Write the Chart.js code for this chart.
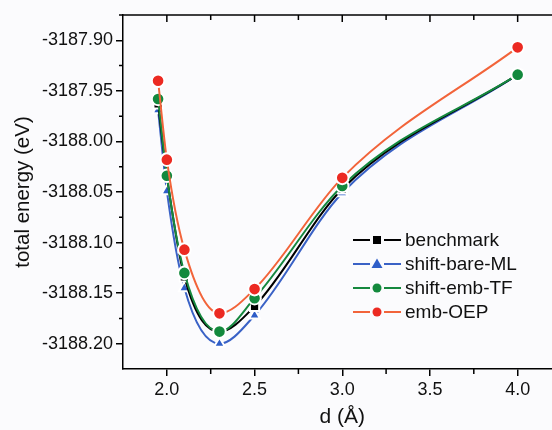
<!DOCTYPE html>
<html>
<head>
<meta charset="utf-8">
<script src="https://cdn.jsdelivr.net/npm/chart.js@4/dist/chart.umd.min.js"></script>
<style>
  html, body { margin: 0; padding: 0; background: #fbfbfd; overflow: hidden; }
  #wrap { width: 570px; height: 430px; }
</style>
</head>
<body>
<div id="wrap"><canvas id="energyChart" width="570" height="430"></canvas></div>
<script>
// bond distance d (Angstrom)
var distances = [1.95, 2.0, 2.1, 2.3, 2.5, 3.0, 4.0];

// total energy (eV)
var benchmark    = [-3187.963, -3188.034, -3188.134, -3188.188, -3188.163, -3188.047, -3187.934];
var shiftBareML  = [-3187.969, -3188.049, -3188.145, -3188.200, -3188.172, -3188.051, -3187.934];
var shiftEmbTF   = [-3187.958, -3188.034, -3188.130, -3188.188, -3188.155, -3188.044, -3187.934];
var embOEP       = [-3187.940, -3188.018, -3188.107, -3188.170, -3188.146, -3188.036, -3187.907];

var seriesNames = ['benchmark', 'shift-bare-ML', 'shift-emb-TF', 'emb-OEP'];

var xTicks = [2.0, 2.5, 3.0, 3.5, 4.0];
var yTicks = [-3188.20, -3188.15, -3188.10, -3188.05, -3188.00, -3187.95, -3187.90];

var FONT = "'Liberation Sans', Arial, sans-serif";

function toPoints(ys) {
  var pts = [];
  for (var i = 0; i < distances.length; i++) {
    pts.push({ x: distances[i], y: ys[i] });
  }
  return pts;
}

function makeSet(label, ys, color, lineColor, style, order) {
  return {
    label: label,
    data: toPoints(ys),
    borderColor: lineColor,
    backgroundColor: color,
    borderWidth: 2,
    cubicInterpolationMode: 'monotone',
    pointStyle: style,
    pointRadius: style === 'rect' ? 6.5 : 6.3,
    pointBackgroundColor: color,
    pointBorderColor: '#ffffff',
    pointBorderWidth: 2,
    order: order
  };
}

// top frame line, inward top ticks and the short minor ticks
var frameTicks = {
  id: 'frameTicks',
  afterDraw: function (chart) {
    var ctx = chart.ctx, a = chart.chartArea;
    var xs = chart.scales.x, ys = chart.scales.y;
    ctx.save();
    ctx.strokeStyle = '#000';
    ctx.lineWidth = 1.5;
    ctx.beginPath();
    ctx.moveTo(a.left, a.top);
    ctx.lineTo(a.right + 10, a.top);
    ctx.stroke();
    ctx.beginPath();
    for (var i = 0; i < xTicks.length; i++) {
      var px = xs.getPixelForValue(xTicks[i]);
      ctx.moveTo(px, a.top); ctx.lineTo(px, a.top + 7);
      if (i < xTicks.length - 1) {
        var mx = xs.getPixelForValue((xTicks[i] + xTicks[i + 1]) / 2);
        ctx.moveTo(mx, a.top); ctx.lineTo(mx, a.top + 5);
        ctx.moveTo(mx, a.bottom); ctx.lineTo(mx, a.bottom + 5);
      }
    }
    for (var j = 0; j < yTicks.length; j++) {
      var my = ys.getPixelForValue(yTicks[j] + 0.025);
      ctx.moveTo(a.left, my); ctx.lineTo(a.left - 4, my);
    }
    ctx.stroke();
    ctx.restore();
  }
};

function drawMarker(ctx, style, x, y, color) {
  ctx.fillStyle = color;
  ctx.beginPath();
  if (style === 'rect') {
    ctx.rect(x - 4, y - 4, 8, 8);
  } else if (style === 'triangle') {
    ctx.moveTo(x, y - 5.5);
    ctx.lineTo(x + 5.5, y + 4);
    ctx.lineTo(x - 5.5, y + 4);
    ctx.closePath();
  } else {
    ctx.arc(x, y, 4.5, 0, Math.PI * 2);
  }
  ctx.fill();
}

// legend drawn as line - marker - line, like the original
var lineLegend = {
  id: 'lineLegend',
  afterDraw: function (chart) {
    var ctx = chart.ctx;
    var sets = chart.data.datasets;
    ctx.save();
    ctx.font = '19px ' + FONT;
    ctx.textBaseline = 'middle';
    for (var i = 0; i < sets.length; i++) {
      var y = 240 + i * 24;
      ctx.strokeStyle = sets[i].borderColor;
      ctx.lineWidth = 2;
      ctx.beginPath();
      ctx.moveTo(353, y); ctx.lineTo(370, y);
      ctx.moveTo(384, y); ctx.lineTo(401, y);
      ctx.stroke();
      drawMarker(ctx, sets[i].pointStyle, 377, y, sets[i].pointBackgroundColor);
      ctx.fillStyle = '#111';
      ctx.fillText(sets[i].label, 405, y + 1);
    }
    ctx.restore();
  }
};

var ctx = document.getElementById('energyChart').getContext('2d');
var energyChart = new Chart(ctx, {
  type: 'line',
  data: {
    datasets: [
      makeSet(seriesNames[0], benchmark, '#000000', '#000000', 'rect', 2),
      makeSet(seriesNames[1], shiftBareML, '#2f5ec8', '#3a62c6', 'triangle', 3),
      makeSet(seriesNames[2], shiftEmbTF, '#13893d', '#15883e', 'circle', 1),
      makeSet(seriesNames[3], embOEP, '#ec2a22', '#f2643a', 'circle', 0)
    ]
  },
  options: {
    responsive: false,
    animation: false,
    layout: { padding: { top: 15, right: 7, left: 0, bottom: 0 } },
    plugins: {
      legend: { display: false },
      tooltip: { enabled: false }
    },
    scales: {
      x: {
        type: 'linear',
        min: 1.75,
        max: 4.25,
        afterFit: function (s) { s.height = 61; },
        afterBuildTicks: function (s) {
          s.ticks = xTicks.map(function (v) { return { value: v }; });
        },
        ticks: {
          color: '#111',
          font: { family: FONT, size: 18 },
          padding: 3,
          callback: function (v) { return Number(v).toFixed(1); }
        },
        grid: { drawOnChartArea: false, tickLength: 7, color: '#000', lineWidth: 1.5 },
        border: { color: '#000', width: 1.5 },
        title: {
          display: true,
          text: 'd (Å)',
          color: '#111',
          font: { family: FONT, size: 21 },
          padding: { top: 0, bottom: 0 }
        }
      },
      y: {
        min: -3188.225,
        max: -3187.875,
        afterFit: function (s) { s.width = 123; },
        afterBuildTicks: function (s) {
          s.ticks = yTicks.map(function (v) { return { value: v }; });
        },
        ticks: {
          color: '#111',
          font: { family: FONT, size: 18 },
          padding: 3,
          callback: function (v) { return Number(v).toFixed(2); }
        },
        grid: { drawOnChartArea: false, tickLength: 7, color: '#000', lineWidth: 1.5 },
        border: { color: '#000', width: 1.5 },
        title: {
          display: true,
          text: 'total energy (eV)',
          color: '#111',
          font: { family: FONT, size: 20.5 },
          padding: { top: 11, bottom: 0 }
        }
      }
    }
  },
  plugins: [frameTicks, lineLegend]
});
</script>
</body>
</html>
